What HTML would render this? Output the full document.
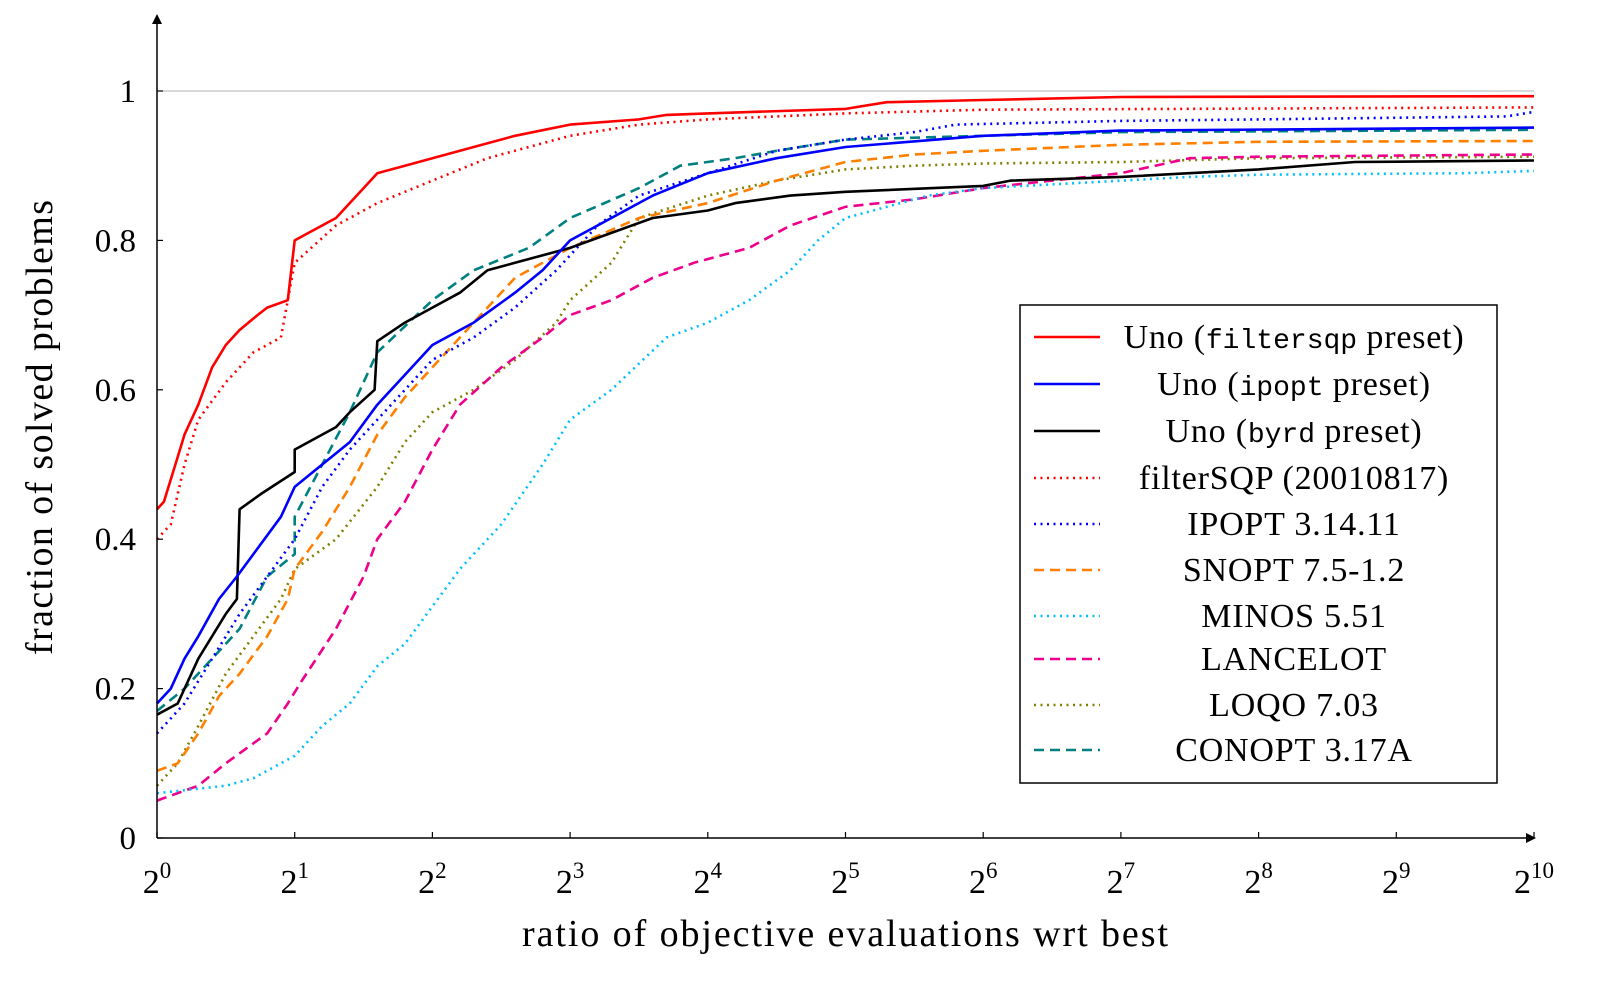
<!DOCTYPE html>
<html><head><meta charset="utf-8"><style>
html,body{margin:0;padding:0;background:#fff;}
svg{display:block;font-family:"Liberation Serif",serif;}
</style></head><body>
<svg id="chart" width="1616" height="997" viewBox="0 0 1616 997">
<g id="grid"></g><g id="series"></g><g id="axes"></g><g id="legend"></g>
</svg>
<script>
const xTicks=[0,1,2,3,4,5,6,7,8,9,10];
const yTicks=[0,0.2,0.4,0.6,0.8,1];
const yTickLabels=["0","0.2","0.4","0.6","0.8","1"];
const seriesNames=["Uno (filtersqp preset)","Uno (ipopt preset)","Uno (byrd preset)","filterSQP (20010817)","IPOPT 3.14.11","SNOPT 7.5-1.2","MINOS 5.51","LANCELOT","LOQO 7.03","CONOPT 3.17A"];
const unoFilterX=[0,0.05,0.1,0.15,0.2,0.3,0.4,0.5,0.6,0.73,0.8,0.95,1.0,1.1,1.3,1.5,1.6,1.8,2,2.3,2.6,3,3.5,3.7,4,5,5.3,6,7,10];
const unoFilterY=[0.44,0.45,0.48,0.51,0.54,0.58,0.63,0.66,0.68,0.70,0.71,0.72,0.80,0.81,0.83,0.87,0.89,0.90,0.91,0.925,0.94,0.955,0.962,0.968,0.97,0.976,0.985,0.988,0.992,0.993];
const unoIpoptX=[0,0.1,0.2,0.3,0.45,0.58,0.7,0.9,1,1.2,1.4,1.6,1.8,2,2.3,2.6,2.8,3,3.3,3.6,4,4.5,5,6,7,10];
const unoIpoptY=[0.18,0.2,0.24,0.27,0.32,0.35,0.38,0.43,0.47,0.50,0.53,0.58,0.62,0.66,0.69,0.73,0.76,0.80,0.83,0.86,0.89,0.91,0.925,0.94,0.947,0.951];
const unoByrdX=[0,0.15,0.3,0.5,0.58,0.6,0.75,1.0,1.0,1.2,1.3,1.4,1.58,1.6,1.8,2,2.2,2.4,2.6,3,3.3,3.6,4,4.2,4.6,5,6,6.2,7,8,8.7,10];
const unoByrdY=[0.165,0.18,0.24,0.30,0.32,0.44,0.46,0.49,0.52,0.54,0.55,0.57,0.60,0.665,0.69,0.71,0.73,0.76,0.77,0.79,0.81,0.83,0.84,0.85,0.86,0.865,0.873,0.88,0.885,0.895,0.905,0.907];
const filterSqpX=[0,0.1,0.2,0.3,0.5,0.7,0.9,1.0,1.3,1.6,2,2.4,3,3.5,4,5,6,10];
const filterSqpY=[0.40,0.42,0.50,0.56,0.61,0.65,0.67,0.77,0.82,0.85,0.88,0.91,0.94,0.955,0.962,0.97,0.975,0.978];
const ipoptX=[0,0.2,0.4,0.6,0.8,1,1.2,1.4,1.6,1.8,2,2.3,2.6,2.9,3.2,3.5,4,4.5,5,5.5,5.8,7,8,9.8,10];
const ipoptY=[0.14,0.18,0.24,0.30,0.35,0.40,0.47,0.52,0.56,0.60,0.64,0.67,0.71,0.76,0.82,0.86,0.89,0.92,0.935,0.945,0.955,0.96,0.962,0.966,0.972];
const snoptX=[0,0.15,0.3,0.45,0.6,0.8,0.95,1.0,1.2,1.4,1.6,1.8,2,2.3,2.6,3,3.5,4,4.5,5,5.5,6,7,8,10];
const snoptY=[0.09,0.1,0.14,0.19,0.22,0.27,0.32,0.36,0.41,0.47,0.54,0.59,0.63,0.69,0.75,0.79,0.83,0.85,0.88,0.905,0.915,0.92,0.928,0.932,0.933];
const minosX=[0,0.5,0.7,1,1.2,1.4,1.6,1.8,2,2.2,2.5,2.8,3,3.3,3.7,4,4.3,4.6,4.8,5,5.3,5.6,6,6.5,7.5,8,9.5,10];
const minosY=[0.06,0.07,0.08,0.11,0.15,0.18,0.23,0.26,0.31,0.36,0.42,0.50,0.56,0.60,0.67,0.69,0.72,0.76,0.80,0.83,0.845,0.86,0.87,0.875,0.885,0.888,0.89,0.893];
const lancelotX=[0,0.3,0.5,0.8,0.95,1.05,1.3,1.5,1.6,1.8,2,2.2,2.5,2.8,3,3.3,3.6,3.9,4.3,4.6,5,5.5,6,6.5,7,7.5,8,10];
const lancelotY=[0.05,0.07,0.10,0.14,0.18,0.21,0.28,0.35,0.40,0.45,0.52,0.58,0.63,0.67,0.70,0.72,0.75,0.77,0.79,0.82,0.845,0.855,0.87,0.88,0.89,0.91,0.912,0.915];
const loqoX=[0,0.15,0.3,0.5,0.7,0.9,1,1.3,1.6,1.8,2,2.3,2.6,2.9,3,3.3,3.5,4,4.5,5,5.5,6,7,8,10];
const loqoY=[0.07,0.1,0.15,0.22,0.27,0.32,0.36,0.40,0.47,0.53,0.57,0.60,0.64,0.69,0.72,0.77,0.83,0.86,0.88,0.895,0.90,0.903,0.905,0.91,0.912];
const conoptX=[0,0.2,0.4,0.6,0.8,1,1.0,1.2,1.4,1.6,2,2.3,2.7,3,3.5,3.8,4.2,4.5,5,6,7,10];
const conoptY=[0.17,0.2,0.24,0.28,0.35,0.38,0.43,0.50,0.57,0.65,0.72,0.76,0.79,0.83,0.87,0.90,0.91,0.92,0.935,0.94,0.945,0.948];

const X0=157,X1=1534,Y0=838,Y1=91;
const sx=v=>X0+(X1-X0)*v/10;
const sy=v=>Y0-(Y0-Y1)*v;
const NS="http://www.w3.org/2000/svg";
function mk(tag,attrs,parent,text){const e=document.createElementNS(NS,tag);for(const k in attrs)e.setAttribute(k,attrs[k]);if(text!==undefined)e.textContent=text;parent.appendChild(e);return e;}
const G=id=>document.getElementById(id);

let gl=mk('line',{x1:X0,x2:X1,y1:sy(1),y2:sy(1),stroke:'#b0b0b0','stroke-width':1},G('grid'));



const styles=[
 {x:unoFilterX,y:unoFilterY,c:'#ff0000',d:''},
 {x:unoIpoptX,y:unoIpoptY,c:'#0000ff',d:''},
 {x:unoByrdX,y:unoByrdY,c:'#000000',d:''},
 {x:filterSqpX,y:filterSqpY,c:'#ff0000',d:'2,4.5'},
 {x:ipoptX,y:ipoptY,c:'#0000ff',d:'2,4.5'},
 {x:snoptX,y:snoptY,c:'#ff8000',d:'10,6'},
 {x:minosX,y:minosY,c:'#00bfff',d:'2,4.5'},
 {x:lancelotX,y:lancelotY,c:'#ec008c',d:'10,6'},
 {x:loqoX,y:loqoY,c:'#808000',d:'2,4.5'},
 {x:conoptX,y:conoptY,c:'#008080',d:'10,6'}
];
const names=['uno-filtersqp','uno-ipopt','uno-byrd','filtersqp','ipopt','snopt','minos','lancelot','loqo','conopt'];
for(let i=styles.length-1;i>=0;i--){
 const s=styles[i];
 let d='';
 for(let j=0;j<s.x.length;j++){d+=(j?'L':'M')+sx(s.x[j]).toFixed(1)+','+sy(s.y[j]).toFixed(1);}
 const a={d:d,fill:'none',stroke:s.c,'stroke-width':2.6,'stroke-linejoin':'round'};
 if(s.d)a['stroke-dasharray']=s.d;
 const p=mk('path',a,G('series'));
 
 
}

const ax=G('axes');
let a1=mk('line',{x1:X0,y1:Y0,x2:X0,y2:20,stroke:'#000','stroke-width':1.5},ax);


mk('path',{d:'M152,24 L157,14 L162,24 Z',fill:'#000'},ax);
let a2=mk('line',{x1:X0,y1:Y0,x2:1530,y2:Y0,stroke:'#000','stroke-width':1.5},ax);


mk('path',{d:'M1526,833 L1536,838 L1526,843 Z',fill:'#000'},ax);
xTicks.forEach(t=>{
 const x=sx(t);
 mk('line',{x1:x,x2:x,y1:Y0,y2:Y0-6,stroke:'#000','stroke-width':1.2},ax);
 const tx=mk('text',{x:x,y:893,'font-size':34,'text-anchor':'middle'},ax);
 
 
 mk('tspan',{},tx,'2');
 mk('tspan',{'font-size':23,dy:-15},tx,String(t));
});
yTicks.forEach((t,i)=>{
 const y=sy(t);
 mk('line',{x1:X0,x2:X0+6,y1:y,y2:y,stroke:'#000','stroke-width':1.2},ax);
 const tx=mk('text',{x:136,y:y+11,'font-size':33,'text-anchor':'end'},ax,yTickLabels[i]);
 
 
});
let xt=mk('text',{x:522,y:946,'font-size':38,textLength:646,lengthAdjust:'spacing'},ax,'ratio of objective evaluations wrt best');


let yt=mk('text',{x:0,y:0,'font-size':38,textLength:455,lengthAdjust:'spacing',transform:'translate(52 655) rotate(-90)'},ax,'fraction of solved problems');



const lg=G('legend');
let box=mk('rect',{x:1020,y:305,width:477,height:478,fill:'#fff',stroke:'#000','stroke-width':1.5},lg);


const ly=[337,384,431,478,524,570,616,659,705,750];
styles.forEach((s,i)=>{
 const g=mk('g',{},lg);
 
 
 const a={x1:1034,x2:1100,y1:ly[i],y2:ly[i],stroke:s.c,'stroke-width':2.6};
 if(s.d)a['stroke-dasharray']=s.d;
 mk('line',a,g);
 const t=mk('text',{x:1294,y:ly[i]+11,'font-size':34,'text-anchor':'middle','letter-spacing':0.8},g);
 if(i<3){
  const m=['filtersqp','ipopt','byrd'][i];
  mk('tspan',{},t,'Uno (');
  mk('tspan',{'font-family':'Liberation Mono, monospace','font-size':28,'letter-spacing':0},t,m);
  mk('tspan',{},t,' preset)');
 } else t.textContent=seriesNames[i];
});
</script>
</body></html>
